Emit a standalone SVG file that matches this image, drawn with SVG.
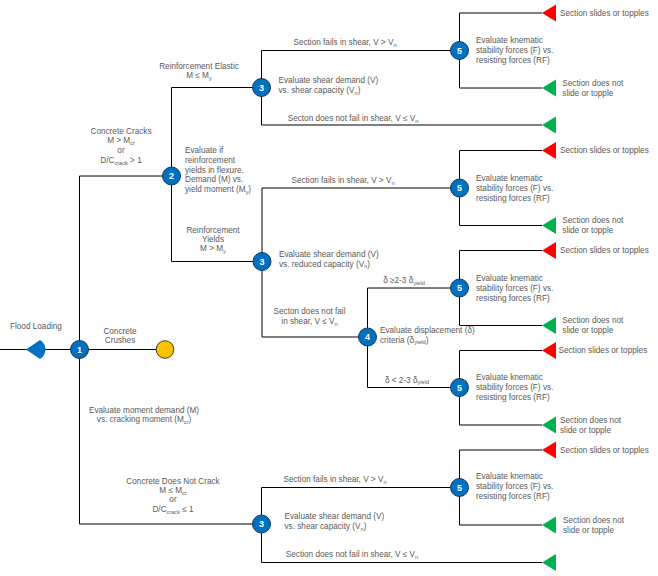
<svg xmlns="http://www.w3.org/2000/svg" xmlns:xlink="http://www.w3.org/1999/xlink" width="658" height="576" viewBox="0 0 658 576">
<style>
  .t { font-family: "Liberation Sans", Arial, sans-serif; font-size: 8.2px; fill: #595959; }
  .m { text-anchor: middle; }
  .ln { fill: none; stroke: #000; stroke-width: 1; }
  .dn { fill: #0070C0; stroke: #17375E; stroke-width: 1; }
  .num { font-family: "Liberation Sans", Arial, sans-serif; font-size: 9px; font-weight: bold; fill: #fff; text-anchor: middle; }
  .red { fill: #FF0000; }
  .grn { fill: #00B050; }
  .sub { font-size: 5.6px; }
</style>
<defs>
  <path id="tri" d="M0,0 L14,-8.5 L14,8.5 Z"/>
</defs>
<rect width="658" height="576" fill="#fff"/>

<g id="connectors" class="ln">
  <path d="M0,349.5 H165"/>
  <path d="M79.5,176 V524 M79.5,176 H171.5 M79.5,524 H261.5"/>
  <path d="M171.5,87.5 V261.5 M171.5,87.5 H261.5 M171.5,261.5 H262"/>
  <path d="M261.5,50.5 V125 M261.5,50.5 H459.5 M261.5,125 H542"/>
  <path d="M459.5,13 V88 M459.5,13 H542 M459.5,88 H542"/>
  <path d="M262,188 V337 M262,188 H459.5 M262,337 H367.5"/>
  <path d="M459.5,150.5 V225.5 M459.5,150.5 H542 M459.5,225.5 H542"/>
  <path d="M367.5,288 V387.5 M367.5,288 H459.5 M367.5,387.5 H459.5"/>
  <path d="M459.5,250.5 V325.5 M459.5,250.5 H542 M459.5,325.5 H542"/>
  <path d="M459.5,350.5 V425 M459.5,350.5 H542 M459.5,425 H542"/>
  <path d="M261.5,487.5 V562.5 M261.5,487.5 H459.5 M261.5,562.5 H542"/>
  <path d="M459.5,450 V525 M459.5,450 H542 M459.5,525 H542"/>
</g>

<g id="labels" class="t">
  <text class="m" x="120" y="334.4">Concrete</text>
  <text class="m" x="120" y="343">Crushes</text>
  <text class="m" x="121" y="133.7">Concrete Cracks</text>
  <text class="m" x="121" y="143.4">M &gt; M<tspan class="sub" dy="1.5">cr</tspan></text>
  <text class="m" x="121" y="153.4">or</text>
  <text class="m" x="121" y="163.4">D/C<tspan class="sub" dy="1.5">crack</tspan><tspan dy="-1.5"> &gt; 1</tspan></text>
  <text class="m" x="173" y="484">Concrete Does Not Crack</text>
  <text class="m" x="173" y="493">M ≤ M<tspan class="sub" dy="1.5">cr</tspan></text>
  <text class="m" x="173" y="501.5">or</text>
  <text class="m" x="173" y="512">D/C<tspan class="sub" dy="1.5">crack</tspan><tspan dy="-1.5"> ≤ 1</tspan></text>
  <text class="m" x="199" y="69.4">Reinforcement Elastic</text>
  <text class="m" x="199" y="78">M ≤ M<tspan class="sub" dy="1.5">y</tspan></text>
  <text class="m" x="213" y="232.7">Reinforcement</text>
  <text class="m" x="213" y="241.7">Yields</text>
  <text class="m" x="213" y="251.4">M &gt; M<tspan class="sub" dy="1.5">y</tspan></text>
  <text class="m" x="345" y="45">Section fails in shear, V &gt; V<tspan class="sub" dy="1.5">n</tspan></text>
  <text class="m" x="353" y="121">Secton does not fail in shear, V ≤ V<tspan class="sub" dy="1.5">n</tspan></text>
  <text class="m" x="343" y="183.4">Section fails in shear, V &gt; V<tspan class="sub" dy="1.5">n</tspan></text>
  <text class="m" x="309.5" y="314.4">Secton does not fail</text>
  <text class="m" x="309.5" y="324.4">in shear, V ≤ V<tspan class="sub" dy="1.5">n</tspan></text>
  <text class="m" x="404" y="283.4">δ ≥2-3 δ<tspan class="sub" dy="1.5">yield</tspan></text>
  <text class="m" x="407" y="382.7">δ &lt; 2-3 δ<tspan class="sub" dy="1.5">yield</tspan></text>
  <text class="m" x="335" y="482">Section fails in shear, V &gt; V<tspan class="sub" dy="1.5">n</tspan></text>
  <text class="m" x="352" y="557">Section does not fail in shear, V ≤ V<tspan class="sub" dy="1.5">n</tspan></text>
</g>

<g id="start">
  <path d="M26,349.5 L40,340 A11 11 0 0 1 40,359 Z" fill="#0070C0"/>
  <text class="t" x="10" y="328.7">Flood Loading</text>
</g>

<g id="crush">
  <circle cx="165" cy="349.5" r="8.8" fill="#FFC000" stroke="#3a3a3a" stroke-width="1"/>
</g>

<g id="node1">
  <circle class="dn" cx="79.5" cy="349.5" r="9"/>
  <text class="num" x="79.5" y="352.7">1</text>
  <text class="t m" x="144" y="413.4">Evaluate moment demand (M)</text>
  <text class="t m" x="144" y="422">vs. cracking moment (M<tspan class="sub" dy="1.5">cr</tspan><tspan dy="-1.5">)</tspan></text>
</g>

<g id="node2">
  <circle class="dn" cx="171.5" cy="176" r="9"/>
  <text class="num" x="171.5" y="179.2">2</text>
  <text class="t" x="185" y="153">Evaluate if</text>
  <text class="t" x="185" y="163">reinforcement</text>
  <text class="t" x="185" y="172.7">yields in flexure.</text>
  <text class="t" x="185" y="182.4">Demand (M) vs.</text>
  <text class="t" x="185" y="192.4">yield moment (M<tspan class="sub" dy="1.5">y</tspan><tspan dy="-1.5">)</tspan></text>
</g>

<g id="node3a">
  <circle class="dn" cx="261.5" cy="87.5" r="9"/>
  <text class="num" x="261.5" y="90.7">3</text>
  <text class="t" x="278.5" y="83">Evaluate shear demand (V)</text>
  <text class="t" x="278.5" y="93">vs. shear capacity (V<tspan class="sub" dy="1.5">n</tspan><tspan dy="-1.5">)</tspan></text>
</g>

<g id="node3b">
  <circle class="dn" cx="262" cy="261.5" r="9"/>
  <text class="num" x="262" y="264.7">3</text>
  <text class="t" x="279" y="257">Evaluate shear demand (V)</text>
  <text class="t" x="279" y="266.5">vs. reduced capacity (V<tspan class="sub" dy="1.5">n</tspan><tspan dy="-1.5">)</tspan></text>
</g>

<g id="node3c">
  <circle class="dn" cx="261.5" cy="524" r="9"/>
  <text class="num" x="261.5" y="527.2">3</text>
  <text class="t" x="284.5" y="519.4">Evaluate shear demand (V)</text>
  <text class="t" x="284.5" y="529.4">vs. shear capacity (V<tspan class="sub" dy="1.5">n</tspan><tspan dy="-1.5">)</tspan></text>
</g>

<g id="node4">
  <circle class="dn" cx="367.5" cy="337" r="9"/>
  <text class="num" x="367.5" y="340.2">4</text>
  <text class="t" x="380" y="333.4">Evaluate displacement (δ)</text>
  <text class="t" x="380" y="342.7">criteria (δ<tspan class="sub" dy="1.5">yield</tspan><tspan dy="-1.5">)</tspan></text>
</g>

<g id="node5a">
  <circle class="dn" cx="459.5" cy="50.5" r="9"/>
  <text class="num" x="459.5" y="53.7">5</text>
  <text class="t" x="476" y="43.2">Evaluate knematic</text>
  <text class="t" x="476" y="53.2">stability forces (F) vs.</text>
  <text class="t" x="476" y="63.2">resisting forces (RF)</text>
</g>
<g id="node5b">
  <circle class="dn" cx="459.5" cy="188" r="9"/>
  <text class="num" x="459.5" y="191.2">5</text>
  <text class="t" x="476" y="180.7">Evaluate knematic</text>
  <text class="t" x="476" y="190.7">stability forces (F) vs.</text>
  <text class="t" x="476" y="200.7">resisting forces (RF)</text>
</g>
<g id="node5c">
  <circle class="dn" cx="459.5" cy="288" r="9"/>
  <text class="num" x="459.5" y="291.2">5</text>
  <text class="t" x="476" y="280.7">Evaluate knematic</text>
  <text class="t" x="476" y="290.7">stability forces (F) vs.</text>
  <text class="t" x="476" y="300.7">resisting forces (RF)</text>
</g>
<g id="node5d">
  <circle class="dn" cx="459.5" cy="387.5" r="9"/>
  <text class="num" x="459.5" y="390.7">5</text>
  <text class="t" x="476" y="380.2">Evaluate knematic</text>
  <text class="t" x="476" y="390.2">stability forces (F) vs.</text>
  <text class="t" x="476" y="400.2">resisting forces (RF)</text>
</g>
<g id="node5e">
  <circle class="dn" cx="459.5" cy="487.5" r="9"/>
  <text class="num" x="459.5" y="490.7">5</text>
  <text class="t" x="476" y="478.7">Evaluate knematic</text>
  <text class="t" x="476" y="488.7">stability forces (F) vs.</text>
  <text class="t" x="476" y="498.7">resisting forces (RF)</text>
</g>

<g id="end1"><use xlink:href="#tri" x="542" y="13" class="red"/><text class="t" x="560" y="15.7">Section slides or topples</text></g>
<g id="end2"><use xlink:href="#tri" x="542" y="88" class="grn"/><text class="t" x="562.3" y="85.7">Section does not</text><text class="t" x="562.3" y="95.7">slide or topple</text></g>
<g id="end3"><use xlink:href="#tri" x="542" y="125" class="grn"/></g>
<g id="end4"><use xlink:href="#tri" x="542" y="150.5" class="red"/><text class="t" x="560" y="153.2">Section slides or topples</text></g>
<g id="end5"><use xlink:href="#tri" x="542" y="225.5" class="grn"/><text class="t" x="562.3" y="223.2">Section does not</text><text class="t" x="562.3" y="233.2">slide or topple</text></g>
<g id="end6"><use xlink:href="#tri" x="542" y="250.5" class="red"/><text class="t" x="560" y="253.2">Section slides or topples</text></g>
<g id="end7"><use xlink:href="#tri" x="542" y="325.5" class="grn"/><text class="t" x="562.3" y="323.2">Section does not</text><text class="t" x="562.3" y="333.2">slide or topple</text></g>
<g id="end8"><use xlink:href="#tri" x="542" y="350.5" class="red"/><text class="t" x="558.5" y="353.2">Section slides or topples</text></g>
<g id="end9"><use xlink:href="#tri" x="542" y="425" class="grn"/><text class="t" x="560" y="422.7">Section does not</text><text class="t" x="560" y="432.7">slide or topple</text></g>
<g id="end10"><use xlink:href="#tri" x="542" y="450" class="red"/><text class="t" x="560" y="452.7">Section slides or topples</text></g>
<g id="end11"><use xlink:href="#tri" x="542" y="525" class="grn"/><text class="t" x="563" y="522.7">Section does not</text><text class="t" x="563" y="532.7">slide or topple</text></g>
<g id="end12"><use xlink:href="#tri" x="542" y="562.5" class="grn"/></g>
</svg>
